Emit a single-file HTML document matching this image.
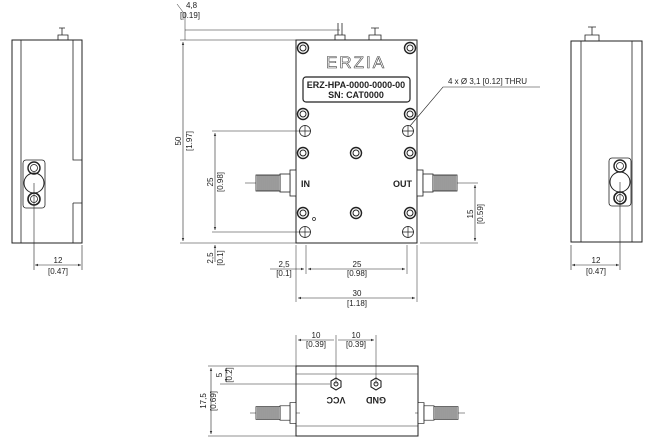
<!DOCTYPE html>
<html><head><style>
body{margin:0;background:#fff}
svg{display:block}
text{font-family:"Liberation Sans",sans-serif;fill:#222}
</style></head><body>
<svg width="650" height="444" viewBox="0 0 650 444" xmlns="http://www.w3.org/2000/svg">
<defs>
<marker id="a" markerWidth="6" markerHeight="6" refX="5" refY="3" orient="auto-start-reverse"><path d="M0,1 L5,3 L0,5z" fill="#333"/></marker>
<g id="screw"><circle r="5.5" fill="none" stroke="#222" stroke-width="1.4"/><circle r="3" fill="none" stroke="#222" stroke-width="1"/></g>
<g id="mh"><circle r="5.5" fill="none" stroke="#222" stroke-width="0.8"/><path d="M-6,0H6M0,-6V6" stroke="#222" stroke-width="0.7"/></g>
<g id="conn">
<rect x="0" y="-13" width="6" height="26" fill="#fff" stroke="#222" stroke-width="0.8"/>
<rect x="6" y="-9" width="10" height="18" fill="#fff" stroke="#222" stroke-width="0.8"/>
<rect x="16" y="-8" width="24" height="16" fill="#fff" stroke="#222" stroke-width="0.8"/>
<path d="M18,-8v16M20,-8v16M22,-8v16M24,-8v16M26,-8v16M28,-8v16M30,-8v16M32,-8v16M34,-8v16M36,-8v16M38,-8v16" stroke="#222" stroke-width="0.9"/>
</g>
</defs>
<g stroke="#222" fill="none" stroke-width="1">
<!-- left side view -->
<rect x="12" y="40" width="70" height="203"/>
<path d="M21,40V243M73,40V160H82M73,203V243M73,203H82" stroke-width="0.8"/>
<path d="M58,40v-5h10v5M62,35v-7M59,28h6" stroke-width="0.8"/>
<rect x="23" y="160" width="22" height="48" rx="3" stroke-width="0.8"/>
<circle cx="34" cy="168" r="6" stroke-width="1.4"/><circle cx="34" cy="168" r="3.5" stroke-width="0.8"/>
<circle cx="34" cy="183" r="10"/><circle cx="34" cy="199" r="6" stroke-width="1.6"/><circle cx="34" cy="199" r="3.5" stroke-width="0.8"/>
<path d="M34,183V270M82,245V270" stroke-width="0.6"/>
<path d="M35,265H81" stroke-width="0.6" marker-start="url(#a)" marker-end="url(#a)"/>
<!-- right side view -->
<rect x="571" y="41" width="71" height="201"/>
<path d="M581,41V242M632,41V242" stroke-width="0.8"/>
<path d="M585,41v-6h14v6M592,35v-8M588,27h8" stroke-width="0.8"/>
<rect x="609" y="158" width="22" height="48" rx="3" stroke-width="0.8"/>
<circle cx="620" cy="166" r="6" stroke-width="1.4"/><circle cx="620" cy="166" r="3.5" stroke-width="0.8"/>
<circle cx="620" cy="182" r="10"/><circle cx="620" cy="198" r="6" stroke-width="1.6"/><circle cx="620" cy="198" r="3.5" stroke-width="0.8"/>
<path d="M620,182V270M571,245V270" stroke-width="0.6"/>
<path d="M572,265H619" stroke-width="0.6" marker-start="url(#a)" marker-end="url(#a)"/>
<!-- main top view -->
<rect x="296" y="40" width="121" height="203"/>
<path d="M335,40v-5h10v5M338,35v-12M342,35v-12M369,40v-5h12v5M375,35v-7M371,28h8" stroke-width="0.8"/>
<rect x="303" y="77" width="107" height="25" rx="3" stroke-width="1.2"/>
<path d="M245,183H296M417,183H478" stroke-width="0.5"/>
<!-- dims main -->
<path d="M180,40H296M180,243H296M212,131H300M212,232H300M420,243H478" stroke-width="0.5"/>
<path d="M183,42V241" stroke-width="0.6" marker-start="url(#a)" marker-end="url(#a)"/>
<path d="M215,133V230" stroke-width="0.6" marker-start="url(#a)" marker-end="url(#a)"/>
<path d="M215,262V245" stroke-width="0.6" marker-end="url(#a)"/>
<path d="M475,185V241" stroke-width="0.6" marker-start="url(#a)" marker-end="url(#a)"/>
<path d="M185,12V40M306,245V274M407,245V274M296,245V302M417,245V302" stroke-width="0.5"/>
<path d="M183,20V12L177,4" stroke-width="0.5"/>
<path d="M308,269H405" stroke-width="0.6" marker-start="url(#a)" marker-end="url(#a)"/>
<path d="M270,269H304" stroke-width="0.6" marker-end="url(#a)"/>
<path d="M298,298H415" stroke-width="0.6" marker-start="url(#a)" marker-end="url(#a)"/>
<path d="M185,30H340" stroke-width="0.5"/>
<path d="M410,126L443,87H540" stroke-width="0.6"/>
<!-- bottom view -->
<rect x="296" y="366" width="122" height="70"/>
<path d="M296,374H418M296,426H418" stroke-width="0.6"/>
<path d="M296,335V366M336,335V384M376,335V384M208,366H296M208,436H296M220,384H330M250,413H300M415,413H465" stroke-width="0.5"/>
<path d="M298,340H334M338,340H374" stroke-width="0.6" marker-start="url(#a)" marker-end="url(#a)"/>
<path d="M211,368V434" stroke-width="0.6" marker-start="url(#a)" marker-end="url(#a)"/>
<path d="M226,368V382" stroke-width="0.6" marker-start="url(#a)" marker-end="url(#a)"/>
<path d="M331,381l5,-3 5,3v6l-5,3 -5,-3z" stroke-width="1.1"/><circle cx="336" cy="384" r="2"/>
<path d="M371,381l5,-3 5,3v6l-5,3 -5,-3z" stroke-width="1.1"/><circle cx="376" cy="384" r="2"/>
</g>
<use href="#conn" transform="translate(296,183) scale(-1,1)"/>
<use href="#conn" transform="translate(417,183)"/>
<use href="#conn" transform="translate(296,413) scale(-1,0.8)"/>
<use href="#conn" transform="translate(418,413) scale(1,0.8)"/>
<use href="#screw" x="303" y="48"/><use href="#screw" x="410" y="48"/>
<use href="#screw" x="303" y="114"/><use href="#screw" x="410" y="114"/>
<use href="#screw" x="303" y="153"/><use href="#screw" x="410" y="153"/>
<use href="#screw" x="303" y="213"/><use href="#screw" x="410" y="213"/>
<use href="#screw" x="356" y="153"/><use href="#screw" x="356" y="213"/>
<use href="#mh" x="305" y="131"/><use href="#mh" x="408" y="131"/>
<use href="#mh" x="305" y="232"/><use href="#mh" x="408" y="232"/>
<circle cx="314" cy="219" r="1.5" fill="none" stroke="#222" stroke-width="0.7"/>
<text x="356" y="68" font-size="17" text-anchor="middle" fill="#fff" stroke="#444" stroke-width="0.6" letter-spacing="2" style="fill:#fff">ERZIA</text>
<text x="356" y="88" font-size="9" font-weight="bold" text-anchor="middle">ERZ-HPA-0000-0000-00</text>
<text x="356" y="98" font-size="9" font-weight="bold" text-anchor="middle">SN: CAT0000</text>
<text x="301" y="187" font-size="9" font-weight="bold">IN</text>
<text x="412" y="187" font-size="9" font-weight="bold" text-anchor="end">OUT</text>
<g font-size="8">
<text x="186" y="8">4,8</text><text x="180" y="18">[0.19]</text>
<text x="448" y="84">4 x Ø 3,1 [0.12] THRU</text>
<text transform="translate(181,141) rotate(-90)" text-anchor="middle">50</text>
<text transform="translate(192,141) rotate(-90)" text-anchor="middle">[1.97]</text>
<text transform="translate(213,182) rotate(-90)" text-anchor="middle">25</text>
<text transform="translate(223,182) rotate(-90)" text-anchor="middle">[0.98]</text>
<text transform="translate(213,258) rotate(-90)" text-anchor="middle">2,5</text>
<text transform="translate(223,258) rotate(-90)" text-anchor="middle">[0.1]</text>
<text transform="translate(473,214) rotate(-90)" text-anchor="middle">15</text>
<text transform="translate(483,214) rotate(-90)" text-anchor="middle">[0.59]</text>
<text x="284" y="267" text-anchor="middle">2,5</text><text x="284" y="276" text-anchor="middle">[0.1]</text>
<text x="357" y="267" text-anchor="middle">25</text><text x="357" y="276" text-anchor="middle">[0.98]</text>
<text x="357" y="296" text-anchor="middle">30</text><text x="357" y="306" text-anchor="middle">[1.18]</text>
<text x="58" y="263" text-anchor="middle">12</text><text x="58" y="274" text-anchor="middle">[0.47]</text>
<text x="596" y="263" text-anchor="middle">12</text><text x="596" y="274" text-anchor="middle">[0.47]</text>
<text x="316" y="338" text-anchor="middle">10</text><text x="316" y="347" text-anchor="middle">[0.39]</text>
<text x="356" y="338" text-anchor="middle">10</text><text x="356" y="347" text-anchor="middle">[0.39]</text>
<text transform="translate(222,375) rotate(-90)" text-anchor="middle">5</text>
<text transform="translate(232,375) rotate(-90)" text-anchor="middle">[0.2]</text>
<text transform="translate(206,401) rotate(-90)" text-anchor="middle">17,5</text>
<text transform="translate(216,401) rotate(-90)" text-anchor="middle">[0.69]</text>
</g>
<text transform="translate(336,397) rotate(180)" font-size="9" font-weight="bold" text-anchor="middle">VCC</text>
<text transform="translate(376,397) rotate(180)" font-size="9" font-weight="bold" text-anchor="middle">GND</text>
</svg>
</body></html>
